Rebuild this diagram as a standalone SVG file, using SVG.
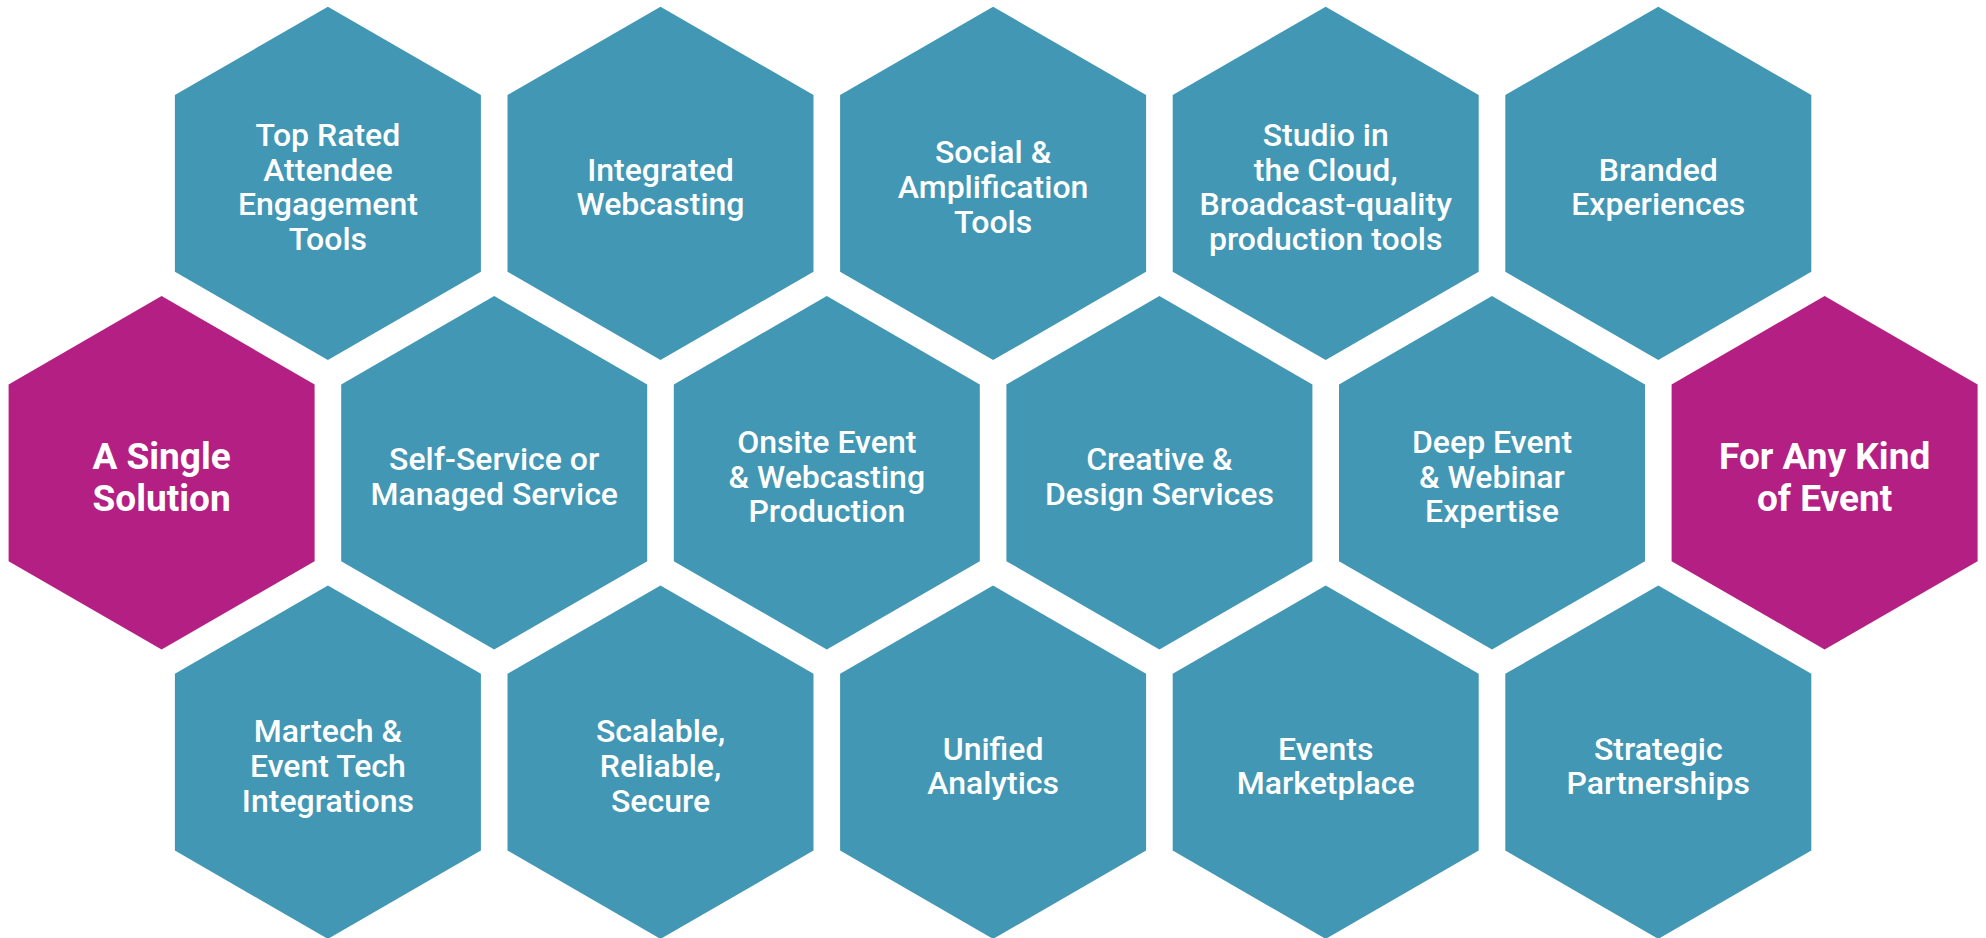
<svg xmlns="http://www.w3.org/2000/svg" xmlns:xlink="http://www.w3.org/1999/xlink" width="1986" height="938" viewBox="0 0 1986 938">
<style>
.teal{fill:#4297b4}
.mag{fill:#b41f84}
text{fill:#ffffff;font-family:Roboto,"Liberation Sans",sans-serif;text-anchor:middle}
.t{font-size:32px;font-weight:500}
.m{font-size:37px;font-weight:700}
</style>
<defs>
<polygon id="hex" points="0,-176.7 153,-88.35 153,88.35 0,176.7 -153,88.35 -153,-88.35"/>
</defs>
<rect width="1986" height="938" fill="#ffffff"/>
<!-- top row -->
<g id="n-top-rated" transform="translate(327.9,183.4)"><use xlink:href="#hex" class="teal"/><text class="t"><tspan x="0" y="-37.5">Top Rated</tspan><tspan x="0" y="-2.7">Attendee</tspan><tspan x="0" y="32.1">Engagement</tspan><tspan x="0" y="66.9">Tools</tspan></text></g>
<g id="n-webcasting" transform="translate(660.5,183.4)"><use xlink:href="#hex" class="teal"/><text class="t"><tspan x="0" y="-2.7">Integrated</tspan><tspan x="0" y="32.1">Webcasting</tspan></text></g>
<g id="n-social" transform="translate(993.1,183.4)"><use xlink:href="#hex" class="teal"/><text class="t"><tspan x="0" y="-20.1">Social &amp;</tspan><tspan x="0" y="14.7">Amplification</tspan><tspan x="0" y="49.5">Tools</tspan></text></g>
<g id="n-studio" transform="translate(1325.7,183.4)"><use xlink:href="#hex" class="teal"/><text class="t"><tspan x="0" y="-37.5">Studio in</tspan><tspan x="0" y="-2.7">the Cloud,</tspan><tspan x="0" y="32.1">Broadcast-quality</tspan><tspan x="0" y="66.9">production tools</tspan></text></g>
<g id="n-branded" transform="translate(1658.3,183.4)"><use xlink:href="#hex" class="teal"/><text class="t"><tspan x="0" y="-2.7">Branded</tspan><tspan x="0" y="32.1">Experiences</tspan></text></g>
<!-- middle row -->
<g id="n-single" transform="translate(161.6,472.8)"><use xlink:href="#hex" class="mag"/><text class="m"><tspan x="0" y="-3.8">A Single</tspan><tspan x="0" y="38.5">Solution</tspan></text></g>
<g id="n-self-service" transform="translate(494.2,472.8)"><use xlink:href="#hex" class="teal"/><text class="t"><tspan x="0" y="-2.7">Self-Service or</tspan><tspan x="0" y="32.1">Managed Service</tspan></text></g>
<g id="n-onsite" transform="translate(826.8,472.8)"><use xlink:href="#hex" class="teal"/><text class="t"><tspan x="0" y="-20.1">Onsite Event</tspan><tspan x="0" y="14.7">&amp; Webcasting</tspan><tspan x="0" y="49.5">Production</tspan></text></g>
<g id="n-creative" transform="translate(1159.4,472.8)"><use xlink:href="#hex" class="teal"/><text class="t"><tspan x="0" y="-2.7">Creative &amp;</tspan><tspan x="0" y="32.1">Design Services</tspan></text></g>
<g id="n-deep" transform="translate(1492,472.8)"><use xlink:href="#hex" class="teal"/><text class="t"><tspan x="0" y="-20.1">Deep Event</tspan><tspan x="0" y="14.7">&amp; Webinar</tspan><tspan x="0" y="49.5">Expertise</tspan></text></g>
<g id="n-any-kind" transform="translate(1824.6,472.8)"><use xlink:href="#hex" class="mag"/><text class="m"><tspan x="0" y="-3.8">For Any Kind</tspan><tspan x="0" y="38.5">of Event</tspan></text></g>
<!-- bottom row -->
<g id="n-martech" transform="translate(327.9,762.2)"><use xlink:href="#hex" class="teal"/><text class="t"><tspan x="0" y="-20.1">Martech &amp;</tspan><tspan x="0" y="14.7">Event Tech</tspan><tspan x="0" y="49.5">Integrations</tspan></text></g>
<g id="n-scalable" transform="translate(660.5,762.2)"><use xlink:href="#hex" class="teal"/><text class="t"><tspan x="0" y="-20.1">Scalable,</tspan><tspan x="0" y="14.7">Reliable,</tspan><tspan x="0" y="49.5">Secure</tspan></text></g>
<g id="n-analytics" transform="translate(993.1,762.2)"><use xlink:href="#hex" class="teal"/><text class="t"><tspan x="0" y="-2.7">Unified</tspan><tspan x="0" y="32.1">Analytics</tspan></text></g>
<g id="n-marketplace" transform="translate(1325.7,762.2)"><use xlink:href="#hex" class="teal"/><text class="t"><tspan x="0" y="-2.7">Events</tspan><tspan x="0" y="32.1">Marketplace</tspan></text></g>
<g id="n-partnerships" transform="translate(1658.3,762.2)"><use xlink:href="#hex" class="teal"/><text class="t"><tspan x="0" y="-2.7">Strategic</tspan><tspan x="0" y="32.1">Partnerships</tspan></text></g>
</svg>
